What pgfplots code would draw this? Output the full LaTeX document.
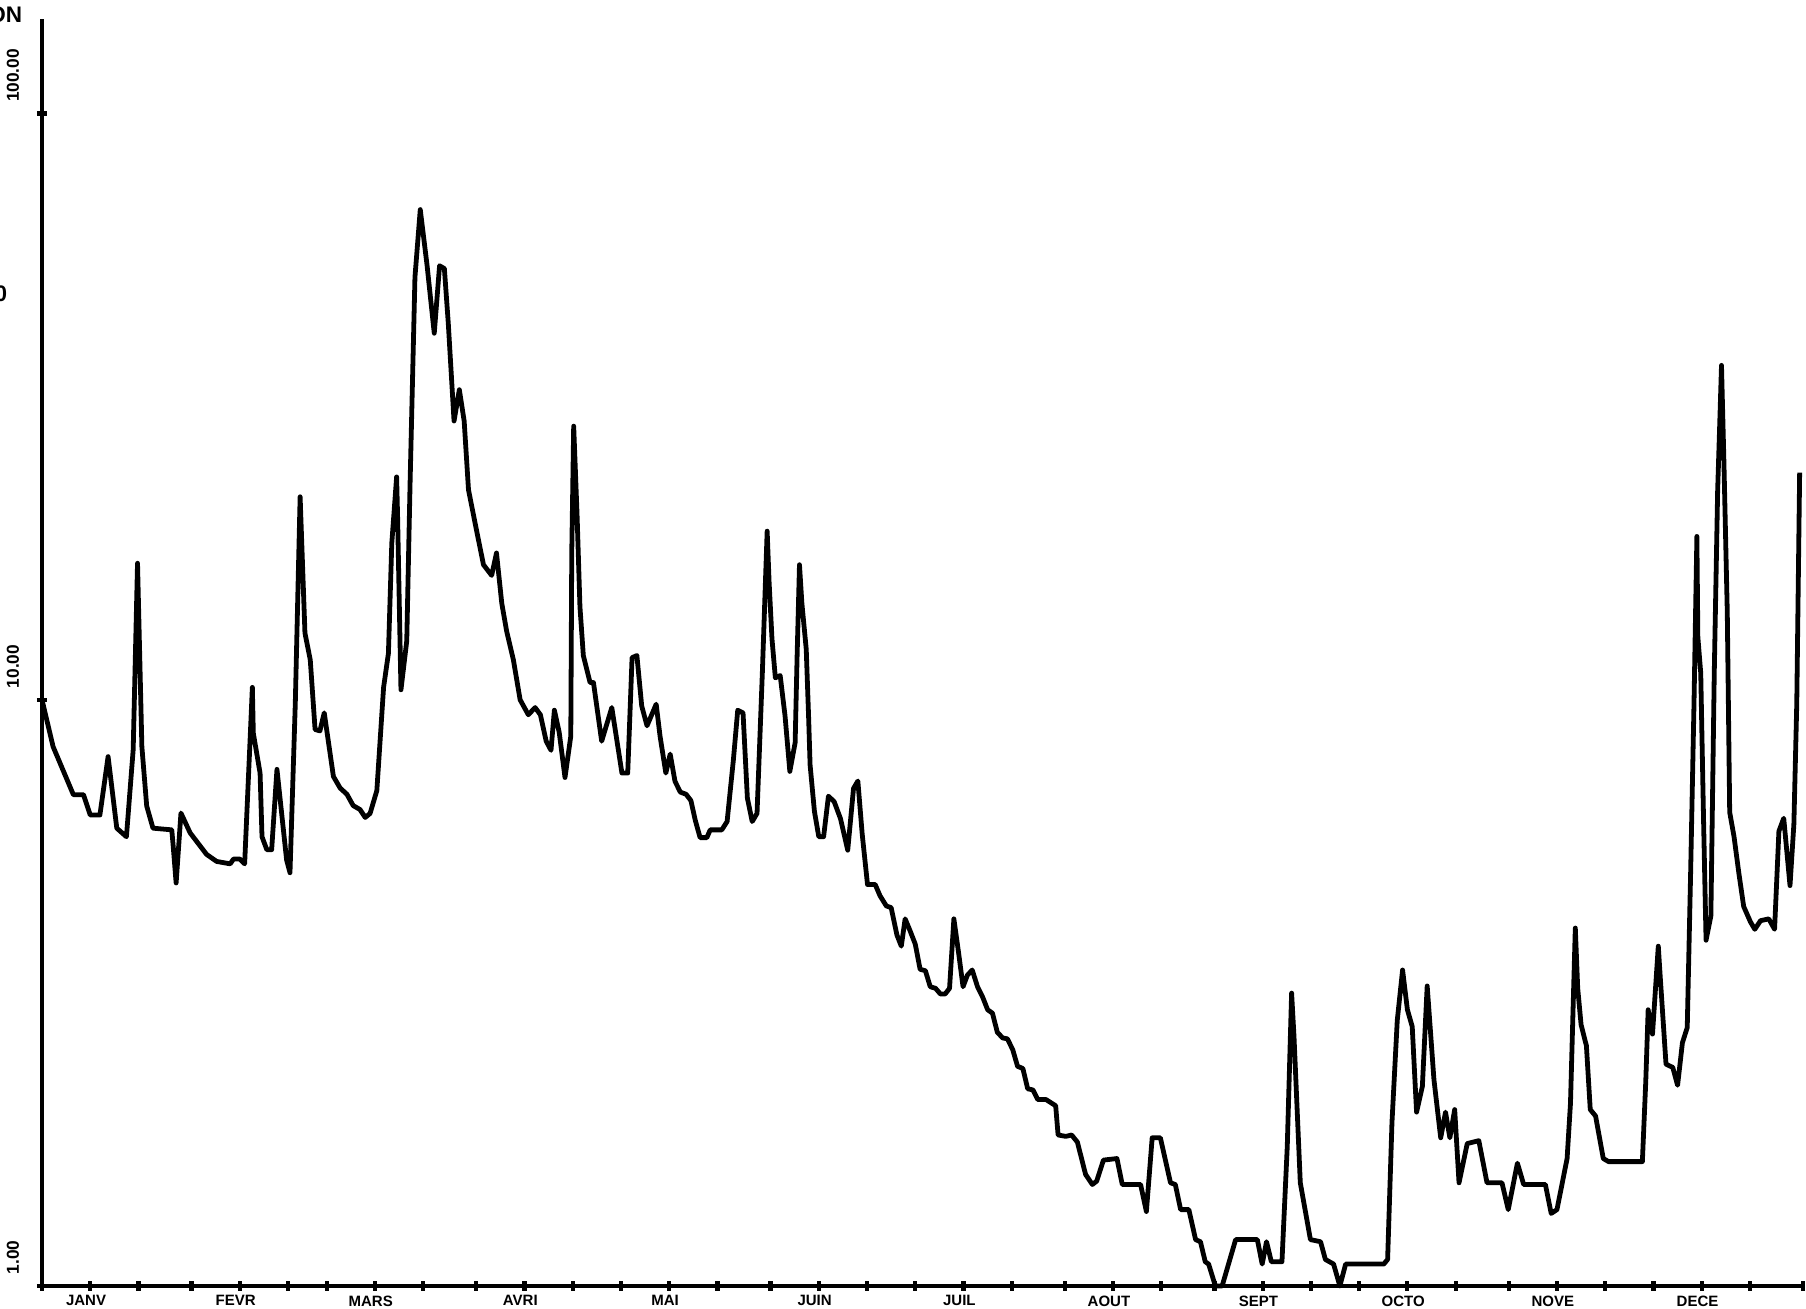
\documentclass[border=0pt]{standalone}
\usepackage{fontspec}
\setmainfont{Liberation Sans}
\usepackage{graphicx}
\usepackage{pgfplots}
\pgfplotsset{compat=1.18}
\begin{document}
\begin{tikzpicture}
\useasboundingbox (0,0) rectangle (433.44pt,313.92pt);
\node[anchor=base east, inner sep=0pt, font=\fontsize{5.4}{5.4}\selectfont\bfseries] at (5.52pt,308.4pt) {ON};
\node[anchor=east, inner sep=0pt, font=\fontsize{5.4}{5.4}\selectfont\bfseries] at (1.9pt,243.4pt) {0};
\begin{axis}[
  at={(10.08pt,5.28pt)}, anchor=south west,
  scale only axis, width=422.64pt, height=304.08pt,
  ymode=log, xmin=1, xmax=366, ymin=1, ymax=145,
  clip=false,
  axis x line=bottom, axis y line=left,
  axis line style={-, line width=1.1pt},
  xtick={1,11,21,32,42,52,60,70,80,91,101,111,121,131,141,152,162,172,182,192,202,213,223,233,244,254,264,274,284,294,305,315,325,335,345,355,366},
  xticklabels={,JANV,,,FEVR,,,MARS,,,AVRI,,,MAI,,,JUIN,,,JUIL,,,AOUT,,,SEPT,,,OCTO,,,NOVE,,,DECE,,},
  ytick={1,10,100},
  yticklabels={\rotatebox{90}{1.00},\rotatebox{90}{10.00},\rotatebox{90}{100.00}},
  yminorticks=false, xminorticks=false,
  tick align=center, major tick length=2.4pt,
  tick style={line width=1pt, black},
  xticklabel style={anchor=north, inner sep=0pt, yshift=-0.9pt, xshift=-1pt, font=\fontsize{3.6}{3.6}\selectfont\bfseries},
  yticklabel style={anchor=south east, inner sep=0pt, xshift=-4.1pt, yshift=2.6pt, font=\fontsize{4.15}{4.15}\selectfont\bfseries},
]
\addplot[black, line width=1.15pt, line join=round, mark=none] table {
x y
1 10.0
3.3 8.32
7.5 6.89
9.6 6.89
11 6.36
13 6.36
14.7 8.0
16.5 6.04
18.5 5.84
19.9 8.22
20.8 17.1
21.7 8.32
22.7 6.59
24 6.04
27.9 6.0
28.2 5.62
28.8 4.87
29.8 6.41
31.7 5.93
35.1 5.45
37.2 5.3
40 5.25
40.7 5.35
42 5.35
43 5.25
44.1 8.44
44.6 10.5
44.8 8.77
46.2 7.5
46.6 5.84
47.6 5.55
48.6 5.55
49.7 7.61
51.7 5.33
52.4 5.07
53.5 9.86
54.5 22.2
55.5 13.0
56.6 11.7
57.6 8.9
58.6 8.85
59.5 9.5
61.4 7.4
62.8 7.07
64.2 6.9
65.5 6.6
66.9 6.5
68 6.3
69 6.4
70.4 7.0
71.8 10.5
72.8 12.0
73.5 18.5
74.5 24.0
74.7 20.6
75.4 10.4
76.6 12.6
77.3 23.6
78.3 52.6
79.4 68.6
80.8 55.2
82.3 42.2
83.4 55
84.4 54.4
85.2 44
86.4 29.9
87.5 33.8
88.5 29.9
89.4 22.8
91.1 19.4
92.5 17.0
94.2 16.3
95.2 17.8
96.3 14.6
97.3 13.1
98.7 11.7
100.1 10.0
101.8 9.43
103.2 9.7
104.3 9.43
105.5 8.5
106.5 8.2
107.2 9.6
108.2 8.8
109.4 7.37
110.6 8.67
110.8 17.8
111.2 29.3
111.9 20.7
112.5 14.4
113.2 11.9
114.6 10.7
115.3 10.7
117 8.5
119.1 9.7
121.2 7.5
122.4 7.5
123.3 11.8
124.3 11.9
125.3 9.76
126.4 9.03
128.3 9.83
129.1 8.67
130.3 7.5
131.2 8.08
132.2 7.26
133.3 6.96
134.5 6.9
135.5 6.73
136.4 6.23
137.4 5.82
138.8 5.82
139.5 6.0
141.9 6.0
143 6.2
144.3 7.9
145.2 9.6
146.3 9.5
147.2 6.8
148.2 6.2
149.2 6.4
150.3 11.1
151.3 19.4
151.7 15.9
152.3 12.7
153 10.9
154 11.0
155 9.4
156 7.55
157.1 8.45
157.5 11.8
158 17.0
158.5 14.6
159.4 12.2
159.9 9.3
160.2 7.74
161.1 6.45
162 5.84
163 5.84
164 6.85
165.2 6.7
166.5 6.27
168 5.54
169.2 7.06
170.1 7.27
171 5.9
172.1 4.84
173.7 4.84
174.7 4.63
176 4.45
177 4.42
178.2 3.97
179.1 3.8
179.9 4.23
180.9 4.04
182 3.83
183 3.47
184.1 3.45
185.1 3.24
186.2 3.22
187.2 3.15
188.2 3.15
189.1 3.22
190 4.23
191 3.69
191.9 3.24
192.8 3.39
193.8 3.46
194.9 3.24
195.9 3.12
197 2.96
198 2.92
199 2.71
200.1 2.65
201.1 2.64
202.2 2.53
203.2 2.37
204.3 2.35
205.3 2.17
206.4 2.16
207.4 2.08
209.1 2.08
211.1 2.03
211.6 1.81
213.2 1.80
214.4 1.81
215.6 1.76
217.3 1.55
218.7 1.49
219.6 1.51
221 1.64
223.8 1.65
224.9 1.49
228.7 1.49
229.9 1.34
231.1 1.79
232.8 1.79
234.9 1.50
235.9 1.49
237 1.35
238.7 1.35
240.1 1.2
241.1 1.19
242.1 1.10
242.8 1.09
244.2 1.0
245.6 1.0
248.4 1.2
252.9 1.2
253.9 1.09
254.8 1.19
255.8 1.10
258 1.10
259.1 1.73
260 3.16
260.5 2.66
261.8 1.50
263.9 1.2
266 1.19
267 1.11
268.7 1.09
270 1.0
271.2 1.09
279.1 1.09
279.9 1.11
280.8 1.90
281.9 2.84
283 3.46
284 2.96
285 2.77
285.9 1.98
287.1 2.19
288.1 3.25
289.5 2.25
290.9 1.79
291.9 1.98
292.8 1.79
293.8 2.0
294.7 1.50
296.4 1.75
298.8 1.77
300.5 1.50
303.6 1.50
304.9 1.35
306.8 1.62
308.1 1.49
312.6 1.49
313.8 1.33
315 1.35
317.1 1.65
317.8 2.05
318.8 4.08
319.3 3.22
320 2.79
321.1 2.57
321.9 2.0
323 1.95
324.6 1.65
325.7 1.63
332.7 1.63
333.4 2.23
333.9 2.96
334.8 2.69
336 3.80
336.4 3.37
337.6 2.39
339 2.36
340 2.2
341 2.6
342 2.76
342.7 5.06
343.4 9.84
344 19.0
344.2 12.8
344.8 11.1
345.4 6.13
345.9 3.89
346.9 4.28
347.6 11.1
348.3 22.7
348.8 30.8
349.1 37.2
349.6 25.5
350.3 14.1
350.8 6.43
351.7 5.84
352.7 5.06
353.7 4.44
355.1 4.18
356 4.06
357.2 4.2
358.9 4.23
360.1 4.06
361 5.97
362 6.28
363.3 4.82
364.1 6.13
364.7 9.84
365.3 24.4
};
\end{axis}
\end{tikzpicture}
\end{document}
